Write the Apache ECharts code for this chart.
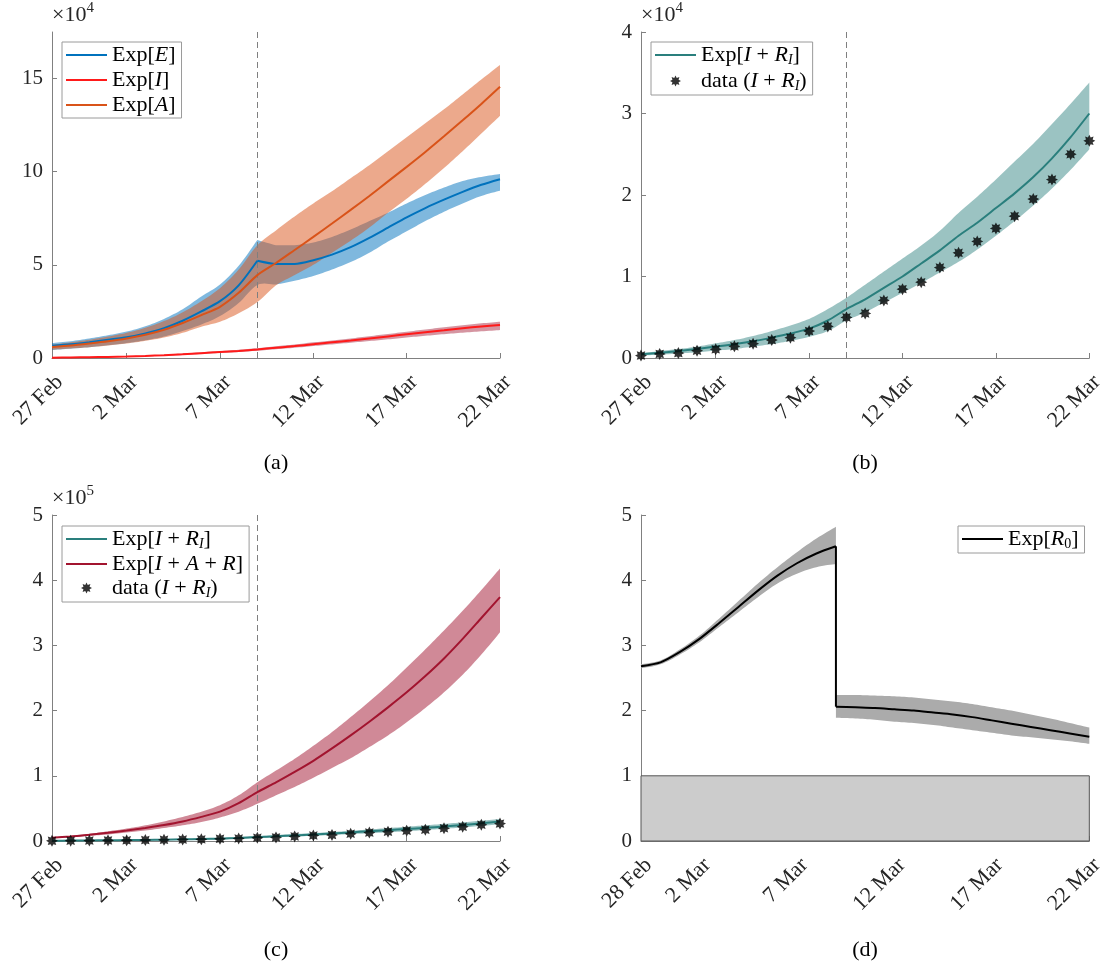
<!DOCTYPE html>
<html><head><meta charset="utf-8">
<script src="https://cdn.jsdelivr.net/npm/echarts@6/dist/echarts.min.js"></script>
<style>html,body{margin:0;padding:0;background:#fff}#c{width:1107px;height:963px}</style>
</head><body><div id="c"></div>
<script>
// ---------- data (day 0 = 27 Feb) ----------
const days = [0,1,2,3,4,5,6,7,8,9,10,11,12,13,14,15,16,17,18,19,20,21,22,23,24];
const tickDays = [0,4,9,14,19,24];
const tickLabels = ['27 Feb','2 Mar','7 Mar','12 Mar','17 Mar','22 Mar'];
const tickDaysD = [1,4,9,14,19,24];
const tickLabelsD = ['28 Feb','2 Mar','7 Mar','12 Mar','17 Mar','22 Mar'];
const interventionDay = 11;

// panel (a)
const E_mean = [6600,7400,8500,9800,11100,13200,16000,20000,25000,30500,39000,52200,50500,50500,52500,55500,59500,64500,70000,75500,80500,85000,89200,93000,96000];
const E_lo   = [4300,5000,5800,6800,8000,9500,11500,14500,18000,22500,29500,39200,39500,41500,44000,47500,51500,56500,62500,68000,73500,78500,83000,87000,89800];
const E_hi   = [8000,9000,10500,12200,14200,17000,21000,26200,33000,39500,49500,63300,60500,60500,62000,65000,69000,73500,78000,83000,87500,91500,95000,97200,98800];
const A_mean = [5900,6700,7800,9000,10500,12500,15200,18800,23000,27500,35000,44500,51000,58000,65000,72200,79500,87000,94800,102600,110600,119000,127600,136400,145600];
const A_lo   = [4500,5100,5800,6700,7800,9200,11000,13500,16800,19500,24000,30000,39000,44500,50000,56500,63000,70000,78000,85500,93500,102000,111000,120500,130000];
const A_hi   = [7200,8400,9800,11500,13500,16200,19800,24500,30500,37500,47500,60500,68500,76000,83000,89500,96500,103500,111000,118500,126000,133500,141500,149500,157300];
const I_mean = [200,300,450,600,800,1100,1500,2000,2600,3200,3800,4600,5500,6400,7400,8400,9400,10500,11600,12700,13800,14900,16000,16900,17700];
const I_lo   = [100,200,300,450,600,850,1200,1600,2200,2700,3200,3900,4700,5500,6400,7300,8200,9100,10000,11000,11900,12800,13600,14300,15000];
const I_hi   = [300,450,600,800,1000,1350,1800,2400,3100,3700,4400,5300,6300,7300,8400,9400,10500,11700,12900,14100,15300,16500,17600,18600,19500];

// panels (b),(c)
const IR_mean = [450,650,850,1100,1400,1700,2050,2500,3000,3600,4600,6000,7200,8600,10000,11600,13200,15000,16600,18400,20200,22200,24500,27100,30000];
const IR_lo   = [300,400,550,700,900,1100,1400,1700,2100,2600,3300,4600,5600,6800,8000,9200,10500,11800,13300,15000,16800,18700,20800,23100,25600];
const IR_hi   = [600,850,1100,1400,1800,2200,2700,3300,4000,4800,6000,7400,9000,10600,12200,13800,15600,17800,19800,21900,24100,26300,28700,31200,33800];
const IR_data = [300,500,600,900,1060,1430,1750,2200,2500,3300,3880,4980,5470,7060,8450,9300,11100,12900,14300,15900,17400,19500,21900,25000,26650];
const IAR_mean = [5000,7000,9500,12500,16000,20000,24500,30000,37000,45000,58000,75000,90000,106000,123000,142000,162000,183000,205000,228000,253000,280000,310000,342000,374000];
const IAR_lo   = [4500,6000,8000,10000,13000,16000,20000,24000,29000,36000,45000,57000,70000,83000,97000,112000,127000,144000,162000,182000,204000,228000,255000,286000,320000];
const IAR_hi   = [5500,8000,11000,15000,19000,24000,30000,37000,45000,55000,70000,90000,108000,126000,146000,167000,190000,214000,239000,266000,294000,323000,353000,385000,418000];

// panel (d)
const R0_daysPre  = [1,2,3,4,5,6,7,8,9,10,11];
const R0_pre      = [2.68,2.74,2.9,3.1,3.34,3.59,3.84,4.07,4.26,4.41,4.52];
const R0_preLo    = [2.65,2.71,2.86,3.05,3.28,3.51,3.74,3.95,4.1,4.2,4.25];
const R0_preHi    = [2.71,2.77,2.94,3.15,3.41,3.68,3.95,4.2,4.43,4.64,4.82];
const R0_daysPost = [11,12,13,14,15,16,17,18,19,20,21,22,23,24];
const R0_post     = [2.06,2.05,2.04,2.02,2.0,1.97,1.94,1.9,1.85,1.8,1.75,1.7,1.65,1.6];
const R0_postLo   = [1.89,1.88,1.86,1.83,1.81,1.78,1.74,1.7,1.66,1.62,1.59,1.56,1.53,1.49];
const R0_postHi   = [2.24,2.24,2.23,2.22,2.2,2.17,2.14,2.1,2.05,2.0,1.94,1.88,1.81,1.74];
const R0_threshold = 1;

// ---------- styling helpers ----------
const FONT = 'Liberation Serif';
const AXC = '#808080';
const TXT = '#262626';
const STAR = (function(){let s='';for(let k=0;k<16;k++){const r=k%2===0?10:6;const a=Math.PI*k/8-Math.PI/2;s+=(k?'L':'M')+(10+r*Math.cos(a)).toFixed(2)+' '+(10+r*Math.sin(a)).toFixed(2)+' ';}return 'path://'+s+'Z';})();
const LINE_ICON = 'path://M0 0L41 0L41 2L0 2Z';

const pairs = (xs, ys) => xs.map((x,i)=>[x, ys[i]]);

// smooth a pixel polyline (Hermite); keeps sharp corners at local extrema
function smoothPx(p){
  const n = p.length, out = [];
  const isExt = p.map((q,i)=> i>0 && i<n-1 && (p[i][1]-p[i-1][1])*(p[i+1][1]-p[i][1]) <= 0);
  const tan = p.map((q,i)=>{
    const a = p[Math.max(0,i-1)], b = p[Math.min(n-1,i+1)];
    return [(b[0]-a[0])/2, (b[1]-a[1])/2];
  });
  for (let i=0;i<n-1;i++){
    const P0=p[i], P1=p[i+1];
    const seg=[P1[0]-P0[0], P1[1]-P0[1]];
    const T0 = isExt[i] ? seg : tan[i];
    const T1 = isExt[i+1] ? seg : tan[i+1];
    for (let k=0;k<8;k++){
      const t=k/8, t2=t*t, t3=t2*t;
      const h00=2*t3-3*t2+1, h10=t3-2*t2+t, h01=-2*t3+3*t2, h11=t3-t2;
      out.push([h00*P0[0]+h10*T0[0]+h01*P1[0]+h11*T1[0], h00*P0[1]+h10*T0[1]+h01*P1[1]+h11*T1[1]]);
    }
  }
  out.push(p[n-1]);
  return out;
}

function band(g, xs, lo, hi, color){
  return {type:'custom', xAxisIndex:g, yAxisIndex:g, silent:true, z:1, clip:true,
    data: xs.map((x,i)=>[x, lo[i], hi[i]]),
    encode:{x:0, y:[1,2]},
    renderItem:function(params, api){
      if (params.dataIndex !== 0) return null;
      const low = xs.map((x,i)=>api.coord([x, lo[i]]));
      const up  = xs.map((x,i)=>api.coord([x, hi[i]]));
      const pts = smoothPx(low).concat(smoothPx(up).reverse());
      return {type:'polygon', shape:{points:pts}, style:{fill:color}};
    }};
}
function line(name, g, xs, ys, color, extra){
  return Object.assign({type:'line', name:name, xAxisIndex:g, yAxisIndex:g, data:pairs(xs,ys),
    symbol:'none', smooth:0.25, lineStyle:{color:color, width:2}, itemStyle:{color:color}, z:5}, extra||{});
}
const vline = {silent:true, symbol:['none','none'], label:{show:false},
  lineStyle:{color:'#7f7f7f', type:[6,4], width:1}, data:[{xAxis:interventionDay}]};

function xAx(g, ds, ls, mn){
  return {type:'value', gridIndex:g, min:mn, max:24,
    axisLine:{lineStyle:{color:AXC}}, splitLine:{show:false},
    axisTick:{inside:true, length:5, customValues:ds, lineStyle:{color:AXC}},
    axisLabel:{customValues:ds, formatter:v=>ls[ds.indexOf(v)], rotate:45, margin:13,
      align:'right', verticalAlign:'top',
      fontFamily:FONT, fontSize:22, color:TXT}};
}
function yAx(g, max, opt){
  const o = {type:'value', gridIndex:g, min:0, max:max,
    axisLine:{show:true, lineStyle:{color:AXC}}, splitLine:{show:false},
    axisTick:{show:true, inside:true, length:5, lineStyle:{color:AXC}},
    axisLabel:{fontFamily:FONT, fontSize:21, color:TXT, margin:9}};
  if (opt.interval) o.interval = opt.interval;
  if (opt.custom){ o.axisTick.customValues = opt.custom; o.axisLabel.customValues = opt.custom; }
  if (opt.div) o.axisLabel.formatter = v => String(Math.round(v/opt.div*100)/100);
  if (opt.exp){
    o.name = '{a|×10}{s|' + opt.exp + '}';
    o.nameLocation = 'end'; o.nameGap = 3;
    o.nameTextStyle = {align:'left', verticalAlign:'bottom', padding:[0,0,0,0],
      rich:{a:{fontFamily:FONT, fontSize:22, color:TXT, lineHeight:28},
            s:{fontFamily:FONT, fontSize:15, color:TXT, lineHeight:15, verticalAlign:'top'}}};
  }
  return o;
}

const rich = {
  r:{fontFamily:FONT, fontSize:22, color:'#000', lineHeight:24},
  i:{fontFamily:FONT, fontSize:22, fontStyle:'italic', color:'#000', lineHeight:24},
  sub:{fontFamily:FONT, fontSize:14, fontStyle:'italic', color:'#000', lineHeight:13, verticalAlign:'bottom'},
  subn:{fontFamily:FONT, fontSize:14, color:'#000', lineHeight:13, verticalAlign:'bottom'}
};
const LEG = {
  'E':'{r|Exp[}{i|E}{r|]}',
  'I':'{r|Exp[}{i|I}{r|]}',
  'A':'{r|Exp[}{i|A}{r|]}',
  'IRb':'{r|Exp[}{i|I}{r| + }{i|R}{sub|I}{r|]}',
  'IRc':'{r|Exp[}{i|I}{r| + }{i|R}{sub|I}{r|]}',
  'IAR':'{r|Exp[}{i|I}{r| + }{i|A}{r| + }{i|R}{r|]}',
  'datab':'{r|data (}{i|I}{r| + }{i|R}{sub|I}{r|)}',
  'datac':'{r|data (}{i|I}{r| + }{i|R}{sub|I}{r|)}',
  'R0':'{r|Exp[}{i|R}{subn|0}{r|]}'
};
function legend(left, top, names, gap){
  return {orient:'vertical', left:left, top:top,
    data:names.map(n=>({name:n, icon:(n.indexOf('data')===0?STAR:LINE_ICON)})),
    itemWidth:41, itemHeight:11, itemGap:gap,
    padding:[2,6,2,4], borderColor:'#9a9a9a', borderWidth:1, backgroundColor:'#fff',
    symbolKeepAspect:true, selectedMode:false,
    formatter:n=>LEG[n], textStyle:{fontFamily:FONT, fontSize:22, rich:rich}};
}

const series = [
  // (a)
  band(0,days,E_lo,E_hi,'rgba(0,114,189,0.5)'),
  band(0,days,A_lo,A_hi,'rgba(217,83,25,0.5)'),
  band(0,days,I_lo,I_hi,'rgba(162,20,47,0.45)'),
  line('E',0,days.slice(0,12),E_mean.slice(0,12),'#0072BD',{markLine:vline}),
  line('E',0,days.slice(11),E_mean.slice(11),'#0072BD'),
  line('I',0,days,I_mean,'#FF1A1A'),
  line('A',0,days,A_mean,'#D95319'),
  // (b)
  band(1,days,IR_lo,IR_hi,'rgba(42,127,125,0.47)'),
  line('IRb',1,days,IR_mean,'#2A7F7D',{markLine:vline}),
  {type:'scatter', name:'datab', xAxisIndex:1, yAxisIndex:1, data:pairs(days,IR_data),
   symbol:STAR, symbolSize:12, itemStyle:{color:'#000'}, z:6},
  // (c)
  band(2,days,IAR_lo,IAR_hi,'rgba(162,20,47,0.5)'),
  band(2,days,IR_lo,IR_hi,'rgba(42,127,125,0.47)'),
  line('IRc',2,days,IR_mean,'#2A7F7D',{markLine:vline}),
  line('IAR',2,days,IAR_mean,'#A2142F'),
  {type:'scatter', name:'datac', xAxisIndex:2, yAxisIndex:2, data:pairs(days,IR_data),
   symbol:STAR, symbolSize:12, itemStyle:{color:'#000'}, z:6},
  // (d)
  band(3,R0_daysPre,R0_preLo,R0_preHi,'#ababab'),
  band(3,R0_daysPost,R0_postLo,R0_postHi,'#ababab'),
  line('R0',3,R0_daysPre,R0_pre,'#000'),
  line('R0',3,[R0_daysPre[R0_daysPre.length-1], R0_daysPost[0]],[R0_pre[R0_pre.length-1], R0_post[0]],'#000',
    {smooth:false,
     markArea:{silent:true, itemStyle:{color:'#cccccc', borderColor:'#555', borderWidth:1},
       data:[[{xAxis:1, yAxis:0},{xAxis:24, yAxis:R0_threshold}]]}}),
  line('R0',3,R0_daysPost,R0_post,'#000')
];

const captions = [['(a)',276,463],['(b)',865,463],['(c)',276,950],['(d)',865,950]];

const chart = echarts.init(document.getElementById('c'), null, {renderer:'canvas'});
chart.setOption({
  animation:false,
  backgroundColor:'#fff',
  textStyle:{fontFamily:FONT},
  grid:[
    {left:52, top:32, width:448, height:326},
    {left:641, top:32, width:449, height:326},
    {left:52, top:515, width:448, height:326},
    {left:641, top:515, width:449, height:326}
  ],
  xAxis:[xAx(0,tickDays,tickLabels,0), xAx(1,tickDays,tickLabels,0), xAx(2,tickDays,tickLabels,0), xAx(3,tickDaysD,tickLabelsD,1)],
  yAxis:[
    yAx(0,175000,{custom:[0,50000,100000,150000], div:10000, exp:'4'}),
    yAx(1,40000,{interval:10000, div:10000, exp:'4'}),
    yAx(2,500000,{interval:100000, div:100000, exp:'5'}),
    yAx(3,5,{interval:1})
  ],
  legend:[
    legend(62,42,['E','I','A'],3),
    legend(651,42,['IRb','datab'],3),
    legend(62,526,['IRc','IAR','datac'],2),
    legend(958,526,['R0'],2)
  ],
  graphic: captions.map(c=>({type:'text', x:c[1], y:c[2],
    style:{text:c[0], fill:'#000', font:'22px "Liberation Serif"', align:'center', verticalAlign:'middle'}})),
  series: series
});
</script></body></html>
